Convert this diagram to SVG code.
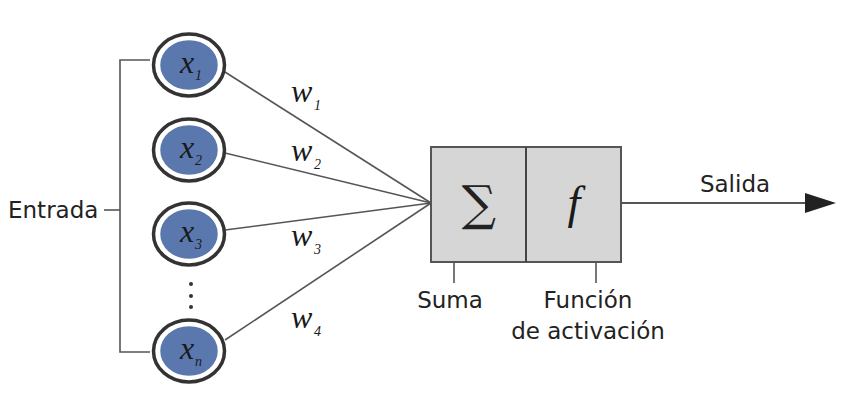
<svg xmlns="http://www.w3.org/2000/svg" width="864" height="398" viewBox="0 0 864 398">
<defs>
<style>
.lbl{font-family:"DejaVu Sans",sans-serif;font-size:23px;fill:#222}
.var{font-family:"Liberation Serif","DejaVu Serif",serif;font-style:italic;fill:#1a1a1a}
.ln{stroke:#555;stroke-width:1.6;fill:none}
.ring{fill:#5a78ad;stroke:#fff;stroke-width:2.5}
.outer{fill:#fff;stroke:#333;stroke-width:3.5}
</style>
</defs>
<rect width="864" height="398" fill="#fff"/>
<g id="connectors">
<polyline class="ln" points="150,60 120,60 120,352 150,352"/>
<line class="ln" x1="104" y1="210" x2="120" y2="210"/>
<line class="ln" x1="225" y1="72" x2="431" y2="203"/>
<line class="ln" x1="225" y1="153" x2="431" y2="203"/>
<line class="ln" x1="225" y1="230" x2="431" y2="203"/>
<line class="ln" x1="225" y1="340" x2="431" y2="203"/>
<line class="ln" x1="454" y1="262" x2="454" y2="283"/>
<line class="ln" x1="596" y1="262" x2="596" y2="283"/>
<line x1="621" y1="203" x2="805" y2="203" stroke="#555" stroke-width="1.8"/>
<path d="M805,193 L836,203 L805,213 Z" fill="#222"/>
</g>
<g id="x1">
<ellipse class="outer" cx="189" cy="65" rx="35.5" ry="31"/>
<ellipse class="ring" cx="189" cy="65" rx="30" ry="26"/>
<text class="var" x="180" y="73" font-size="32">x</text><text class="var" x="195" y="80" font-size="14">1</text>
</g>
<g id="x2">
<ellipse class="outer" cx="189" cy="150" rx="35.5" ry="31"/>
<ellipse class="ring" cx="189" cy="150" rx="30" ry="26"/>
<text class="var" x="180" y="158" font-size="32">x</text><text class="var" x="195" y="165" font-size="14">2</text>
</g>
<g id="x3">
<ellipse class="outer" cx="189" cy="234" rx="35.5" ry="31"/>
<ellipse class="ring" cx="189" cy="234" rx="30" ry="26"/>
<text class="var" x="180" y="242" font-size="32">x</text><text class="var" x="195" y="249" font-size="14">3</text>
</g>
<g id="dots" fill="#333">
<circle cx="191" cy="284" r="2"/><circle cx="191" cy="296" r="2"/><circle cx="191" cy="307" r="2"/>
</g>
<g id="xn">
<ellipse class="outer" cx="189" cy="351" rx="35.5" ry="31"/>
<ellipse class="ring" cx="189" cy="351" rx="30" ry="26"/>
<text class="var" x="180" y="359" font-size="32">x</text><text class="var" x="195" y="366" font-size="14">n</text>
</g>
<g id="weights">
<text class="var" x="291" y="102" font-size="32">w</text><text class="var" x="314" y="110" font-size="14">1</text>
<text class="var" x="291" y="161" font-size="32">w</text><text class="var" x="314" y="169" font-size="14">2</text>
<text class="var" x="291" y="246" font-size="32">w</text><text class="var" x="314" y="254" font-size="14">3</text>
<text class="var" x="291" y="328" font-size="32">w</text><text class="var" x="314" y="336" font-size="14">4</text>
</g>
<g id="neuron">
<rect x="431" y="147" width="190" height="115" fill="#d6d6d6" stroke="#555" stroke-width="2"/>
<line x1="526" y1="147" x2="526" y2="262" stroke="#444" stroke-width="2"/>
<text x="479" y="220" text-anchor="middle" font-family="DejaVu Serif,serif" font-size="48" fill="#222">∑</text>
<text x="574" y="218" text-anchor="middle" class="var" font-size="46">f</text>
</g>
<g id="labels">
<text class="lbl" x="8" y="218">Entrada</text>
<text class="lbl" x="450" y="308" text-anchor="middle">Suma</text>
<text class="lbl" x="588" y="308" text-anchor="middle">Función</text>
<text class="lbl" x="588" y="339" text-anchor="middle">de activación</text>
<text class="lbl" x="735" y="192" text-anchor="middle">Salida</text>
</g>
</svg>
